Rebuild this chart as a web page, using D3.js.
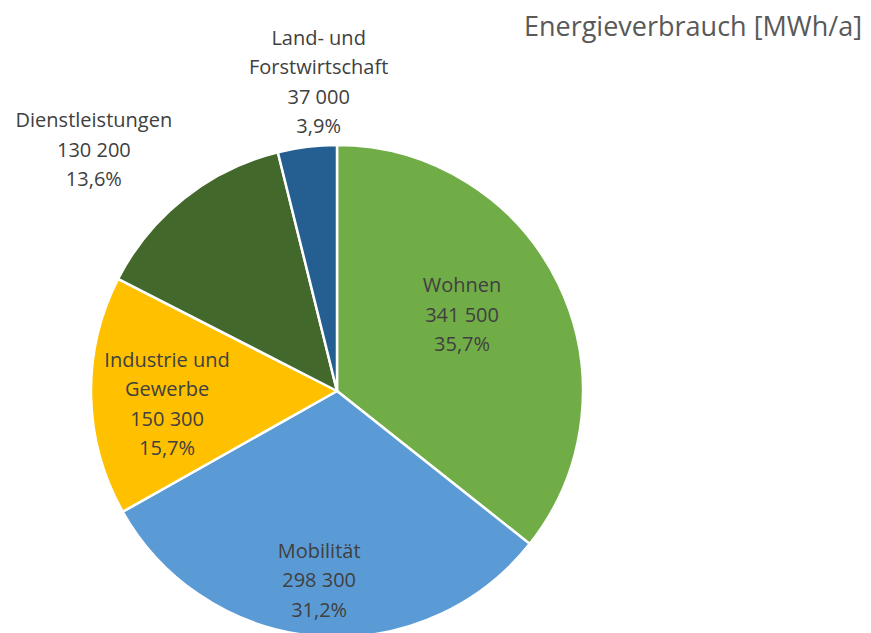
<!DOCTYPE html>
<html>
<head>
<meta charset="utf-8">
<script src="https://cdn.jsdelivr.net/npm/d3@7"></script>
<style>
  body { margin: 0; background: #fff; }
  svg { display: block; font-family: "Open Sans", sans-serif; }
</style>
</head>
<body>
<svg id="chart" width="871" height="633"></svg>
<script>
// Data
const categories = ['Wohnen', 'Mobilität', 'Industrie und\nGewerbe', 'Dienstleistungen', 'Land- und\nForstwirtschaft'];
const values = [341500, 298300, 150300, 130200, 37000];
const shares = ['35,7%', '31,2%', '15,7%', '13,6%', '3,9%'];
const valueLabels = ['341 500', '298 300', '150 300', '130 200', '37 000'];

// Layout / style
const colors = ['#70AD47', '#5B9BD5', '#FFC000', '#43682B', '#255E91'];
// label anchor: [angle in degrees clockwise from 12 o'clock, radius as fraction of r]
const labelPolar = [[58.7, 0.595], [185.4, 0.772], [265.6, 0.693], [314.8, 1.393], [356.6, 1.258]];

const svg = d3.select('#chart');
const cx = 337, cy = 391, r = 246;
const lineH = 29.5, fontSize = 20;

const g = svg.append('g').attr('transform', `translate(${cx}, ${cy})`);

const pie = d3.pie().sort(null).value(d => d);
const arc = d3.arc().innerRadius(0).outerRadius(r);
const arcs = pie(values);

g.selectAll('path')
  .data(arcs).enter().append('path')
  .attr('d', arc)
  .attr('fill', (d, i) => colors[i])
  .attr('stroke', '#fff')
  .attr('stroke-width', 2.5)
  .attr('stroke-linejoin', 'round');

// data labels
arcs.forEach(function(d, i) {
  let [deg, k] = labelPolar[i];
  let a = deg * Math.PI / 180;
  let x = Math.sin(a) * k * r, y = -Math.cos(a) * k * r;
  let lines = categories[i].split('\n').concat([valueLabels[i], shares[i]]);
  let t = g.append('text')
    .attr('text-anchor', 'middle')
    .attr('fill', '#404040')
    .style('font-size', fontSize + 'px');
  lines.forEach(function(l, j) {
    t.append('tspan')
      .attr('x', x)
      .attr('y', y + (j - (lines.length - 1) / 2) * lineH)
      .attr('dy', '0.35em')
      .text(l);
  });
});

// title
svg.append('text')
  .attr('x', 862).attr('y', 36)
  .attr('text-anchor', 'end')
  .attr('fill', '#595959')
  .style('font-size', '27px')
  .text('Energieverbrauch [MWh/a]');
</script>
</body>
</html>
